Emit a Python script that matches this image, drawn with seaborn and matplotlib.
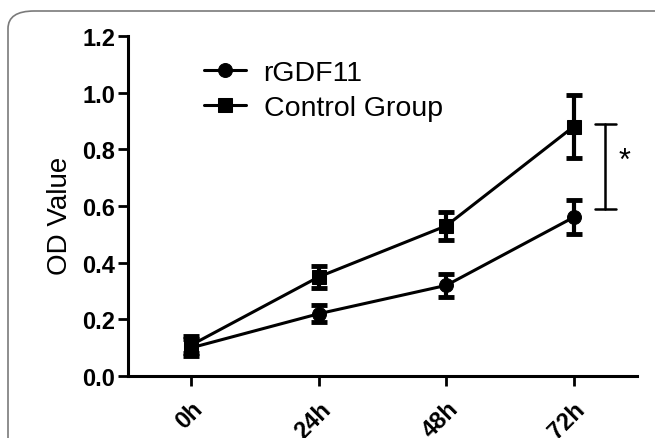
import numpy as np
import pandas as pd
import matplotlib
matplotlib.use("Agg")
import matplotlib.pyplot as plt
import seaborn as sns
from matplotlib.patches import FancyBboxPatch

times = ["0h", "24h", "48h", "72h"]
rgdf11_mean = [0.10, 0.22, 0.32, 0.56]
rgdf11_err = [0.03, 0.03, 0.04, 0.06]
control_mean = [0.11, 0.35, 0.53, 0.88]
control_err = [0.03, 0.04, 0.05, 0.11]
series_names = ["rGDF11", "Control Group"]
sig_top = 0.89
sig_bottom = 0.59
sig_label = "*"

sns.set_theme(style="ticks")
plt.rcParams['font.family'] = ['Liberation Sans', 'DejaVu Sans']
plt.rcParams['text.color'] = 'black'
plt.rcParams['axes.labelcolor'] = 'black'

fig = plt.figure(figsize=(6.55, 4.39), dpi=100)
ax = fig.add_axes([0.195, 0.141, 0.778, 0.775])

border = FancyBboxPatch((8 / 655, -0.2), 1.2, 1.2 - 12 / 439,
                        boxstyle="round,pad=0,rounding_size=0.04",
                        transform=fig.transFigure, facecolor="none",
                        edgecolor="#7a7a7a", linewidth=1.2, zorder=0)
fig.patches.append(border)

df = pd.DataFrame({
    "x": list(range(len(times))) * 2,
    "value": rgdf11_mean + control_mean,
    "group": [series_names[0]] * len(times) + [series_names[1]] * len(times),
})

sns.lineplot(data=df, x="x", y="value", hue="group", style="group",
             markers={series_names[0]: "o", series_names[1]: "s"},
             dashes=False, palette={series_names[0]: "black", series_names[1]: "black"},
             markersize=10, linewidth=2.2, markeredgecolor="black", ax=ax, legend=True)

xs = np.arange(len(times))
for m, e in [(rgdf11_mean, rgdf11_err), (control_mean, control_err)]:
    ax.errorbar(xs, m, yerr=e, fmt="none", ecolor="black", elinewidth=3,
                capsize=6, capthick=3.5)

# significance bracket
bx = len(times) - 1 + 0.25
cw = 0.08
ax.plot([bx, bx], [sig_bottom, sig_top], color="black", lw=1.8, clip_on=False)
ax.plot([bx - cw, bx + cw], [sig_top, sig_top], color="black", lw=1.8, clip_on=False)
ax.plot([bx - cw, bx + cw], [sig_bottom, sig_bottom], color="black", lw=1.8, clip_on=False)
ax.text(bx + 0.10, (sig_top + sig_bottom) / 2 + 0.02, sig_label, fontsize=22,
        ha="left", va="center", color="black")

ax.set_xlim(-0.5, 3.5)
ax.set_ylim(0, 1.2)
ax.set_yticks(np.arange(0, 1.21, 0.2))
ax.set_yticklabels([f"{v:.1f}" for v in np.arange(0, 1.21, 0.2)], fontsize=17, fontweight="bold")
ax.set_xticks(xs)
ax.set_xticklabels(times, fontsize=17, fontweight="bold", rotation=45, ha="right",
                   rotation_mode="anchor")
ax.set_xlabel("")
ax.set_ylabel("OD Value", fontsize=20, color="black")
ax.yaxis.set_label_coords(-0.107, 0.474)

for s in ["top", "right"]:
    ax.spines[s].set_visible(False)
for s in ["left", "bottom"]:
    ax.spines[s].set_linewidth(2.2)
    ax.spines[s].set_color("black")
ax.tick_params(axis="both", width=2, length=7, color="black", labelcolor="black")
ax.tick_params(axis="x", pad=8)
ax.tick_params(axis="y", pad=2)
ax.set_facecolor("white")

leg = ax.legend(frameon=False, fontsize=20.5, loc="upper left", bbox_to_anchor=(0.138, 0.945),
                handlelength=1.5, handletextpad=0.6, labelspacing=0.3, borderaxespad=0,
                borderpad=0.2)
for t in leg.get_texts():
    t.set_color("black")

fig.savefig("out.png", dpi=100, facecolor="white")
